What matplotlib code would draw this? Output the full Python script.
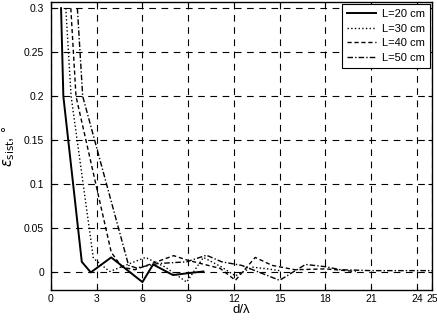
import numpy as np
import matplotlib.pyplot as plt

# values
x20 = [0.66, 0.81, 2.02, 2.61, 3.95, 6.0, 6.7, 8.0, 8.95, 10.0]
y20 = [0.30, 0.20, 0.012, 0.0, 0.017, -0.011, 0.009, -0.003, -0.001, 0.001]

x30 = [0.97, 1.32, 2.78, 3.85, 6.2, 7.5, 8.9, 10.0, 11.2, 12.1, 13.2, 14.2, 15.0]
y30 = [0.30, 0.20, 0.016, 0.001, 0.017, 0.006, -0.011, 0.017, 0.006, -0.004, 0.006, 0.004, 0.002]

x40 = [1.30, 1.64, 3.95, 4.65, 5.5, 8.05, 8.93, 11.1, 12.1, 13.4, 14.5, 16.0, 18.0, 20.0]
y40 = [0.30, 0.20, 0.023, 0.006, 0.003, 0.019, 0.014, 0.0045, -0.009, 0.017, 0.008, 0.003, 0.004, 0.001]

x50 = [1.73, 2.08, 5.09, 5.6, 7.0, 8.9, 10.2, 11.2, 12.5, 15.0, 16.7, 18.0, 19.0, 21.0, 25.0]
y50 = [0.30, 0.20, 0.008, 0.005, 0.010, 0.012, 0.0195, 0.012, 0.008, -0.009, 0.009, 0.0065, 0.003, 0.002, 0.002]

labels = ['L=20 cm', 'L=30 cm', 'L=40 cm', 'L=50 cm']
xticks = [0, 3, 6, 9, 12, 15, 18, 21, 24, 25]
yticks = [0, 0.05, 0.1, 0.15, 0.2, 0.25, 0.3]

plt.rcParams['font.family'] = ['Liberation Sans', 'DejaVu Sans']
plt.rcParams['font.size'] = 7.5

fig = plt.figure(figsize=(4.37, 3.22), dpi=100)
ax = fig.add_axes([51/437, 1 - 290/322, 381/437, 288/322])

ax.plot(x20, y20, '-', color='k', lw=1.4, label=labels[0])
ax.plot(x30, y30, ':', color='k', lw=1.0, label=labels[1])
ax.plot(x40, y40, '--', color='k', lw=1.0, label=labels[2], dashes=(3, 2))
ax.plot(x50, y50, '-.', color='k', lw=1.0, label=labels[3], dashes=(4, 1.5, 1, 1.5))

ax.set_xlim(0, 25)
ax.set_ylim(-0.02, 0.307)
ax.set_xticks(xticks)
ax.set_xticklabels([str(t) for t in xticks])
ax.set_yticks(yticks)
ax.set_yticklabels(['0', '0.05', '0.1', '0.15', '0.2', '0.25', '0.3'])
ax.tick_params(direction='in', length=3, width=0.8, top=True, right=True)
ax.tick_params(axis='x', pad=3)
ax.tick_params(axis='y', pad=5)
ax.grid(True, color='k', linestyle=(0, (6, 5)), linewidth=0.8)
for s in ax.spines.values():
    s.set_linewidth(1.0)

ax.set_xlabel('d/λ', fontsize=9.5, labelpad=0)
ax.set_ylabel(r'$\varepsilon_{\mathrm{sist}}$, °', fontsize=10.5, labelpad=5)

leg = ax.legend(loc='upper right', fontsize=8, frameon=True, fancybox=False,
                edgecolor='k', framealpha=1, handlelength=2.6, handletextpad=0.5,
                borderpad=0.45, labelspacing=0.4, borderaxespad=0.2)
leg.get_frame().set_linewidth(0.8)

fig.savefig('out.png', dpi=100)
